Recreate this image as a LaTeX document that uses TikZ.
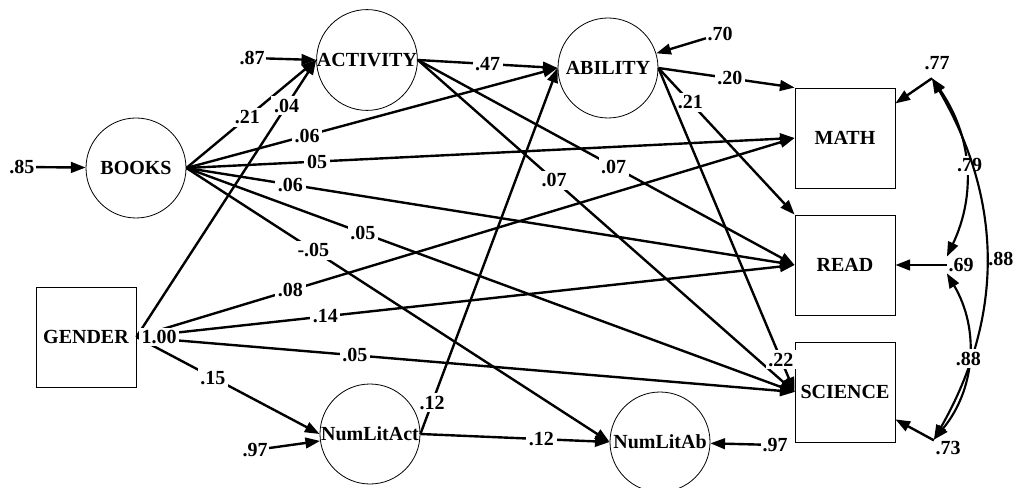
\documentclass[tikz,border=0pt]{standalone}
\usepackage{fontspec}
\setmainfont{Liberation Serif}
\usetikzlibrary{arrows.meta}

\tikzset{
  latent/.style={circle, draw, line width=0.6pt, minimum size=75pt, inner sep=0pt},
  observed/.style={rectangle, draw, line width=0.6pt, minimum size=75pt, inner sep=0pt},
  resid/.style={inner sep=1pt},
  coef/.style={fill=white, inner sep=2pt},
  effect/.style={line width=1.8pt, -{Triangle[length=11pt,width=8pt]}},
  covar/.style={line width=1.6pt, {Triangle[length=11pt,width=8pt]}-{Triangle[length=11pt,width=8pt]}}
}

\begin{document}
\begin{tikzpicture}[x=0.75pt, y=-0.75pt, font=\fontsize{15}{17}\selectfont\bfseries]
  \useasboundingbox (0,0) rectangle (1013,488);
  % Latent and observed variables.
  \node[latent]   (books)     at (136,168) {BOOKS};
  \node[latent]   (activity)  at (367,60)  {ACTIVITY};
  \node[latent]   (ability)   at (608,68)  {ABILITY};
  \node[latent]   (numlitact) at (370,434) {NumLitAct};
  \node[latent]   (numlitab)  at (660,442) {NumLitAb};
  \node[observed] (gender)    at (86,337)  {GENDER};
  \node[observed] (math)      at (845,138) {MATH};
  \node[observed] (read)      at (845,265) {READ};
  \node[observed] (science)   at (845,392) {SCIENCE};
  % Residual terms.
  \node[resid] (e85)  at (22,167)  {.85};
  \node[resid] (e87)  at (252,58)  {.87};
  \node[resid] (e70)  at (720,34)  {.70};
  \node[resid] (e97a) at (255,450) {.97};
  \node[resid] (e97b) at (775,445) {.97};
  \node[resid] (e77)  at (937,63)  {.77};
  \node[resid] (e69)  at (961,265) {.69};
  \node[resid] (e73)  at (948,448) {.73};
  \coordinate (c77) at ([shift={(-5,7)}]e77.south);
  \draw[effect] (e85) -- (books);
  \draw[effect] (e87) -- (activity.west);
  \draw[effect] (e70) -- (ability);
  \draw[effect] (e97a) -- (numlitact);
  \draw[effect] (e97b) -- (numlitab);
  \draw[effect] (c77) -- (math);
  \draw[effect] (e69) -- (read);
  \draw[effect] (e73) -- (science);
  % Paths out of BOOKS.
  \draw[effect] (books.east) -- node[coef, pos=.47]  {.21}  (activity.west);
  \draw[effect] (books.east) -- node[coef, pos=.325] {.06}  (ability.west);
  \draw[effect] (books.east) -- node[coef, pos=.215] {05}   (math.west);
  \draw[effect] (books.east) -- node[coef, pos=.171] {.06}  (read.west);
  \draw[effect] (books.east) -- node[coef, pos=.29]  {.05}  (science.west);
  \draw[effect] (books.east) -- node[coef, pos=.30]  {-.05} (numlitab.west);
  % Paths out of ACTIVITY and ABILITY.
  \draw[effect] (activity.east) -- node[coef, pos=.5]   {.47} (ability.west);
  \draw[effect] (activity.east) -- node[coef, pos=.52]  {.07} (read.west);
  \draw[effect] (activity.east) -- node[coef, pos=.362] {.07} (science.west);
  \draw[effect] (ability.east) -- node[coef, pos=.525] {.20} (math.north west);
  \draw[effect] (ability.east) -- node[coef, pos=.234] {.21} (read.north west);
  \draw[effect] (ability.east) -- node[coef, pos=.9]   {.22} (science.west);
  % Paths out of GENDER.
  \draw[effect] (gender.east) -- node[coef, pos=.835] {.04} (activity.west);
  \draw[effect] (gender.east) -- node[coef, pos=.234] {.08} (math.west);
  \draw[effect] (gender.east) -- node[coef, pos=.287] {.14} (read.west);
  \draw[effect] (gender.east) -- node[coef, pos=.332] {.05} (science.west);
  \draw[effect] (gender.east) -- node[coef, pos=.418] {.15} (numlitact.west);
  \node[coef] (gvar) at (159,337) {1.00};
  % Paths out of NumLitAct.
  \draw[effect] (numlitact.east) -- node[coef, pos=.085] {.12} (ability.west);
  \draw[effect] (numlitact.east) -- node[coef, pos=.64]  {.12} (numlitab.west);
  % Residual covariances.
  \draw[covar] (c77) to[bend left=30] node[coef, xshift=3pt] {.79} (e69.north west);
  \draw[covar] (c77) to[bend left=30] node[right, inner sep=1pt] {.88} (e73.north west);
  \draw[covar] (e69.south west) to[bend left=35] node[coef] {.88} (e73.north west);
\end{tikzpicture}
\end{document}
